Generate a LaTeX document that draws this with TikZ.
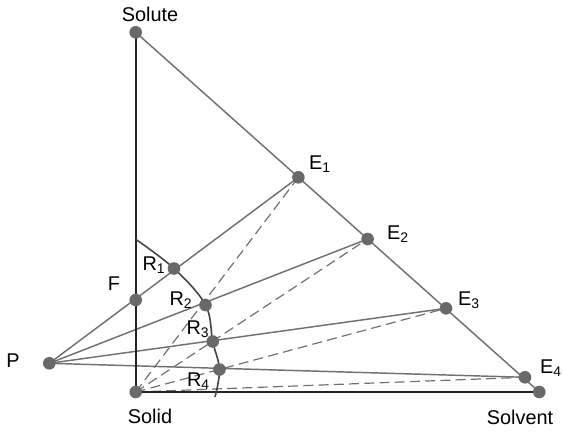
\documentclass[tikz,border=0pt]{standalone}
\usepackage{fontspec}
\setmainfont{Liberation Sans}
\definecolor{linegray}{RGB}{112,112,112}
\definecolor{dotgray}{RGB}{105,105,105}
\definecolor{axisblack}{RGB}{35,35,35}
\tikzset{
  pt/.style={circle, fill=dotgray, inner sep=0pt, minimum size=9.5pt},
  lbl/.style={font=\fontsize{15}{17}\selectfont, inner sep=0pt},
  tie/.style={linegray, line width=0.9pt, dash pattern=on 7.5pt off 4pt},
}
\begin{document}
\begin{tikzpicture}[x=0.0265cm, y=-0.0265cm]
  \useasboundingbox (0,0) rectangle (563,431);
  % Triangle corners
  \coordinate (Solute) at (135.7,32.3);
  \coordinate (Solid) at (135.7,392);
  \coordinate (Solvent) at (539.3,392);
  % Feed and pole
  \coordinate (F) at (135.7,300);
  \coordinate (P) at (49.3,363.3);
  % Extract points on the hypotenuse
  \coordinate (E1) at (298.4,177.3);
  \coordinate (E2) at (367.6,239);
  \coordinate (E3) at (446,308.3);
  \coordinate (E4) at (525,377.3);
  % Raffinate points on the underflow curve
  \coordinate (R1) at (174,268.5);
  \coordinate (R2) at (205.5,305);
  \coordinate (R3) at (212.7,341.5);
  \coordinate (R4) at (219.5,369.5);
  \coordinate (C0) at (135.7,239.3);
  \coordinate (C5) at (215,397);
  % Tie lines through Solid
  \foreach \i in {1,...,4}
    \draw[tie] (Solid) -- (E\i);
  % Lines from the pole
  \foreach \i in {1,...,4}
    \draw[linegray, line width=1.1pt] (P) -- (E\i);
  % Sides
  \draw[linegray, line width=1.1pt] (Solute) -- (Solvent);
  \draw[axisblack, line width=1.3pt] (Solute) -- (Solid) -- (Solvent);
  % Underflow curve
  \draw[axisblack!85, line width=1.2pt] plot[smooth, tension=0.6]
    coordinates {(C0) (R1) (R2) (R3) (R4) (C5)};
  % Dots
  \foreach \p in {Solute,Solid,Solvent,F,P,E1,E2,E3,E4,R1,R2,R3,R4}
    \node[pt] (d\p) at (\p) {};
  % Labels
  \node[lbl] (lSolute) at (150,14.5) {Solute};
  \node[lbl] (lSolid) at (150,416) {Solid};
  \node[lbl] (lSolvent) at (520,417) {Solvent};
  \node[lbl] (lP) at (13,361) {P};
  \node[lbl] (lF) at (114,284) {F};
  \node[lbl] (lE1) at (320,164) {E\textsubscript{1}};
  \node[lbl] (lE2) at (398,234) {E\textsubscript{2}};
  \node[lbl] (lE3) at (469,300) {E\textsubscript{3}};
  \node[lbl] (lE4) at (551,368) {E\textsubscript{4}};
  \node[lbl] (lR1) at (154,265) {R\textsubscript{1}};
  \node[lbl] (lR2) at (181,300) {R\textsubscript{2}};
  \node[lbl] (lR3) at (198,329) {R\textsubscript{3}};
  \node[lbl] (lR4) at (198.5,381.5) {R\textsubscript{4}};
\end{tikzpicture}
\end{document}
